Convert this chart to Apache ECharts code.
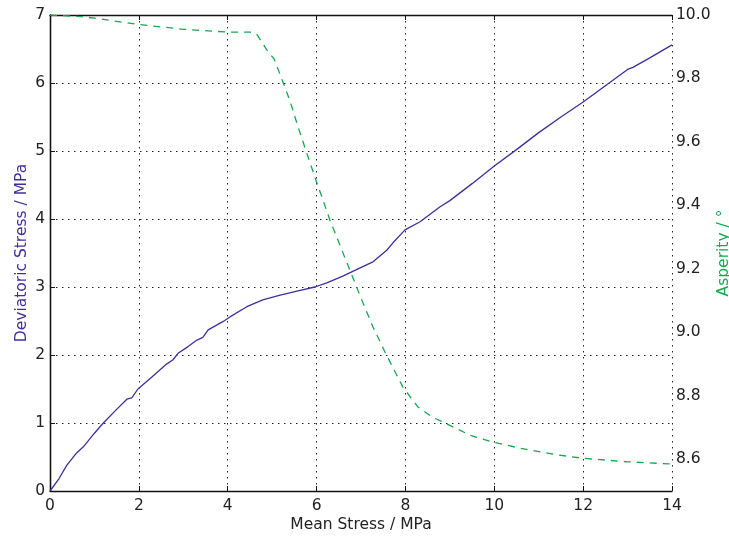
<!DOCTYPE html>
<html>
<head>
<meta charset="utf-8">
<script src="https://cdn.jsdelivr.net/npm/echarts@6/dist/echarts.min.js"></script>
<style>
  html, body { margin: 0; padding: 0; background: #fff; }
  #chart { width: 729px; height: 540px; }
</style>
</head>
<body>
<div id="chart"></div>
<script>
// values
const stressX = [0, 0.2, 0.38, 0.6, 0.75, 1.0, 1.2, 1.5, 1.73, 1.84, 1.98, 2.3, 2.63, 2.77, 2.89, 3.1, 3.31, 3.44, 3.56, 3.89, 4.05, 4.43, 4.79, 5.18, 5.56, 5.96, 6.23, 6.59, 6.98, 7.27, 7.58, 7.72, 7.99, 8.33, 8.78, 9.0, 9.5, 10, 10.5, 11, 11.5, 12, 12.5, 13, 13.12, 13.5, 14];
const deviatoric = [0, 0.18, 0.38, 0.56, 0.65, 0.85, 1.0, 1.2, 1.35, 1.37, 1.5, 1.68, 1.87, 1.93, 2.03, 2.12, 2.22, 2.26, 2.37, 2.49, 2.56, 2.71, 2.81, 2.88, 2.94, 3.0, 3.06, 3.16, 3.28, 3.37, 3.54, 3.65, 3.84, 3.96, 4.18, 4.27, 4.52, 4.78, 5.02, 5.27, 5.5, 5.72, 5.96, 6.2, 6.23, 6.37, 6.56];

const asperityX = [0, 0.7, 1, 2, 3, 4, 4.5, 4.65, 4.88, 5.05, 5.4, 5.6, 5.96, 6.3, 6.98, 7.27, 7.54, 7.94, 8.28, 8.6, 8.94, 9.45, 9.97, 10.58, 11.32, 12, 13, 14];
const asperity = [10.0, 9.995, 9.99, 9.97, 9.955, 9.946, 9.946, 9.94, 9.89, 9.86, 9.73, 9.64, 9.49, 9.354, 9.115, 9.017, 8.938, 8.828, 8.765, 8.733, 8.711, 8.676, 8.654, 8.635, 8.616, 8.603, 8.592, 8.585];

const blue = "#3f2f9c";
const green = "#16a84f";
const font = "DejaVu Sans";

const chart = echarts.init(document.getElementById("chart"));

const gridLine = {
  show: true,
  lineStyle: { color: "#222", width: 1, type: [1.5, 4.5] },
};

const option = {
  animation: false,
  grid: { left: 50, right: 57, top: 15, bottom: 49, outerBoundsMode: "none", containLabel: false },
  xAxis: [
    {
      type: "value",
      min: 0,
      max: 14,
      interval: 2,
      name: "Mean Stress / MPa",
      nameLocation: "middle",
      nameGap: 26,
      nameMoveOverlap: false,
      nameTextStyle: { fontFamily: font, fontSize: 15.5, color: "#222" },
      axisLine: { lineStyle: { color: "#111", width: 1.3 } },
      axisTick: { inside: true, length: 5, lineStyle: { color: "#111" } },
      axisLabel: { fontFamily: font, fontSize: 15.5, color: "#222", margin: 7 },
      splitLine: gridLine,
    },
    {
      type: "value",
      position: "top",
      min: 0,
      max: 14,
      interval: 2,
      axisLine: { lineStyle: { color: "#111", width: 1.3 } },
      axisTick: { inside: true, length: 5, lineStyle: { color: "#111" } },
      axisLabel: { show: false },
      splitLine: { show: false },
    },
  ],
  yAxis: [
    {
      type: "value",
      min: 0,
      max: 7,
      interval: 1,
      name: "Deviatoric Stress / MPa",
      nameLocation: "middle",
      nameGap: 20,
      nameMoveOverlap: false,
      nameTextStyle: { fontFamily: font, fontSize: 15.5, color: blue },
      axisLine: { show: true, lineStyle: { color: "#111", width: 1.3 } },
      axisTick: { show: true, inside: true, length: 5, lineStyle: { color: "#111" } },
      axisLabel: { fontFamily: font, fontSize: 15.5, color: "#222", margin: 5 },
      splitLine: gridLine,
    },
    {
      type: "value",
      position: "right",
      min: 8.5,
      max: 10.0,
      splitNumber: 7,
      name: "Asperity / °",
      nameLocation: "middle",
      nameRotate: 90,
      nameGap: 44,
      nameMoveOverlap: false,
      nameTextStyle: { fontFamily: font, fontSize: 15.5, color: green },
      axisLine: { show: true, lineStyle: { color: "#111", width: 1.3 } },
      // ticks of this axis end up on the left spine in this build, so they stay off
      axisTick: { show: false },
      axisLabel: {
        fontFamily: font,
        fontSize: 15.5,
        color: "#222",
        margin: 4,
        showMinLabel: false,
        formatter: (v) => v.toFixed(1),
      },
      splitLine: { show: false },
    },
  ],
  series: [
    {
      name: "Deviatoric Stress",
      type: "line",
      xAxisIndex: 0,
      yAxisIndex: 0,
      showSymbol: false,
      data: stressX.map((x, i) => [x, deviatoric[i]]),
      lineStyle: { color: blue, width: 1.3 },
      itemStyle: { color: blue },
      z: 3,
    },
    {
      name: "Asperity",
      type: "line",
      xAxisIndex: 0,
      yAxisIndex: 1,
      showSymbol: false,
      data: asperityX.map((x, i) => [x, asperity[i]]),
      lineStyle: { color: green, width: 1.3, type: [7, 6] },
      itemStyle: { color: green },
      z: 3,
    },
  ],
};

chart.setOption(option);
</script>
</body>
</html>
